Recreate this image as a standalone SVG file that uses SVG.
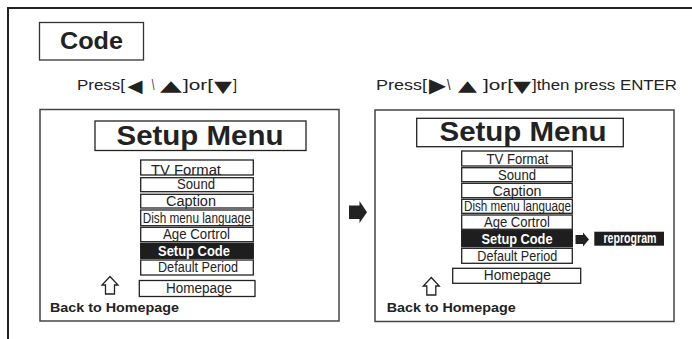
<svg xmlns="http://www.w3.org/2000/svg" width="692" height="339" viewBox="0 0 692 339">
<style>
.frame{fill:none;stroke:#222;stroke-width:2}
.panel{fill:#fff;stroke:#444;stroke-width:1.5}
.box{fill:#fff;stroke:#222;stroke-width:1.3}
.sel{fill:#1e1e1e;stroke:#1e1e1e;stroke-width:1.3}
.t{font-family:"Liberation Sans",Arial,sans-serif;fill:#222}
.item{font-family:"Liberation Sans",Arial,sans-serif;font-size:14px;fill:#222;text-anchor:middle}
.itemw{font-family:"Liberation Sans",Arial,sans-serif;font-size:14px;font-weight:bold;fill:#fff;text-anchor:middle}
.title{font-family:"Liberation Sans",Arial,sans-serif;font-size:27px;font-weight:bold;fill:#222;text-anchor:middle}
.back{font-family:"Liberation Sans",Arial,sans-serif;font-size:13px;font-weight:bold;fill:#222}
.sym{font-family:"DejaVu Sans",sans-serif}
.arr{fill:#222}
.up{fill:#fff;stroke:#222;stroke-width:1.3;stroke-linejoin:miter}
</style>
<g id="frame">
<line class="frame" x1="8" y1="8" x2="692" y2="8"/>
<line class="frame" x1="8" y1="7" x2="8" y2="339"/>
</g>
<g id="code">
<rect x="39.5" y="22.5" width="104" height="37.5" fill="#fff" stroke="#333" stroke-width="1.3"/>
<text class="t" x="91.5" y="48.5" font-size="23" font-weight="bold" text-anchor="middle" textLength="63" lengthAdjust="spacingAndGlyphs">Code</text>
</g>
<g id="instr-left">
<text class="t" y="90" font-size="15"><tspan x="77" textLength="48" lengthAdjust="spacingAndGlyphs">Press[</tspan><tspan class="sym" x="127.5" y="91.5" font-size="18" textLength="15" lengthAdjust="spacingAndGlyphs">◀</tspan><tspan x="149" y="90" textLength="8" lengthAdjust="spacingAndGlyphs"> \ </tspan><tspan class="sym" x="160" y="91" font-size="15" textLength="22" lengthAdjust="spacingAndGlyphs">▲</tspan><tspan x="183" y="90" textLength="30" lengthAdjust="spacingAndGlyphs">]or[</tspan><tspan class="sym" x="214" y="92" font-size="16" textLength="18" lengthAdjust="spacingAndGlyphs">▼</tspan><tspan x="233" y="90" textLength="4" lengthAdjust="spacingAndGlyphs">]</tspan></text>
</g>
<g id="instr-right">
<text class="t" y="90" font-size="15"><tspan x="376" textLength="51" lengthAdjust="spacingAndGlyphs">Press[</tspan><tspan class="sym" x="429" y="92" font-size="20" textLength="17" lengthAdjust="spacingAndGlyphs">▶</tspan><tspan x="447" y="90" textLength="7" lengthAdjust="spacingAndGlyphs">\ </tspan><tspan class="sym" x="458" y="91" font-size="15" textLength="19" lengthAdjust="spacingAndGlyphs">▲</tspan><tspan x="483" y="90" textLength="30" lengthAdjust="spacingAndGlyphs">]or[</tspan><tspan class="sym" x="513" y="92" font-size="16" textLength="18" lengthAdjust="spacingAndGlyphs">▼</tspan><tspan x="532" y="90" textLength="145" lengthAdjust="spacingAndGlyphs">]then press ENTER</tspan></text>
</g>
<g id="panel-left">
<rect class="panel" x="40" y="109.5" width="299" height="211.5"/>
<rect class="box" x="95" y="121" width="211" height="29.5" stroke-width="1.5"/>
<text class="title" x="200" y="145" textLength="167" lengthAdjust="spacingAndGlyphs">Setup Menu</text>
<rect class="box" x="140.7" y="160" width="112.6" height="15"/>
<text class="item" x="186" y="174.5" textLength="70" lengthAdjust="spacingAndGlyphs">TV Format</text>
<rect class="box" x="140.7" y="177.7" width="112.6" height="14"/>
<text class="item" x="196" y="189" textLength="38" lengthAdjust="spacingAndGlyphs">Sound</text>
<rect class="box" x="140.7" y="194.3" width="112.6" height="13.7"/>
<text class="item" x="191" y="206" textLength="50" lengthAdjust="spacingAndGlyphs">Caption</text>
<rect class="box" x="140.7" y="210" width="112.6" height="15.7"/>
<text class="item" x="196.7" y="222.5" textLength="108" lengthAdjust="spacingAndGlyphs">Dish menu language</text>
<rect class="box" x="140.7" y="227.3" width="112.6" height="14.4"/>
<text class="item" x="196.5" y="239" textLength="67" lengthAdjust="spacingAndGlyphs">Age Cortrol</text>
<rect class="sel" x="140.7" y="243.3" width="112.6" height="15"/>
<text class="itemw" x="194" y="255.5" textLength="72" lengthAdjust="spacingAndGlyphs">Setup Code</text>
<rect class="box" x="140.7" y="260" width="112.6" height="15"/>
<text class="item" x="198" y="272" textLength="80" lengthAdjust="spacingAndGlyphs">Default Period</text>
<rect class="box" x="139.3" y="280.5" width="115.7" height="16"/>
<text class="item" x="199" y="293" textLength="66" lengthAdjust="spacingAndGlyphs">Homepage</text>
<path class="up" d="M110 276.5 L118 285 L114.5 285 L114.5 294 L105.5 294 L105.5 285 L102 285 Z"/>
<text class="back" x="50" y="311.5" textLength="129" lengthAdjust="spacingAndGlyphs">Back to Homepage</text>
</g>
<g id="panel-right">
<rect class="panel" x="375" y="110" width="299" height="211.5"/>
<rect class="box" x="416.7" y="118.3" width="206.6" height="28.4" stroke-width="1.5"/>
<text class="title" x="523" y="140.5" textLength="167" lengthAdjust="spacingAndGlyphs">Setup Menu</text>
<rect class="box" x="461.7" y="151" width="110.6" height="15"/>
<text class="item" x="517.5" y="163.5" textLength="62" lengthAdjust="spacingAndGlyphs">TV Format</text>
<rect class="box" x="461.7" y="167.7" width="110.6" height="14"/>
<text class="item" x="517" y="179.5" textLength="38" lengthAdjust="spacingAndGlyphs">Sound</text>
<rect class="box" x="461.7" y="183.3" width="110.6" height="14.4"/>
<text class="item" x="517" y="195.5" textLength="49" lengthAdjust="spacingAndGlyphs">Caption</text>
<rect class="box" x="461.7" y="199.3" width="110.6" height="14"/>
<text class="item" x="517.5" y="211" textLength="107" lengthAdjust="spacingAndGlyphs">Dish menu language</text>
<rect class="box" x="461.7" y="215" width="110.6" height="14.3"/>
<text class="item" x="517" y="227" textLength="66" lengthAdjust="spacingAndGlyphs">Age Cortrol</text>
<rect class="sel" x="461.7" y="230.7" width="110.6" height="16"/>
<text class="itemw" x="517" y="244" textLength="71" lengthAdjust="spacingAndGlyphs">Setup Code</text>
<rect class="box" x="461.7" y="248.3" width="110.6" height="15"/>
<text class="item" x="517.3" y="260.5" textLength="80" lengthAdjust="spacingAndGlyphs">Default Period</text>
<rect class="box" x="452.7" y="268.3" width="128" height="15"/>
<text class="item" x="517.3" y="280" textLength="67" lengthAdjust="spacingAndGlyphs">Homepage</text>
<path class="up" d="M431.3 277.5 L439.3 286 L435.8 286 L435.8 295 L426.8 295 L426.8 286 L423.3 286 Z"/>
<text class="back" x="386.7" y="311.5" textLength="129" lengthAdjust="spacingAndGlyphs">Back to Homepage</text>
</g>
<g id="reprogram">
<rect x="594.3" y="231.7" width="69.7" height="14" fill="#1e1e1e"/>
<text class="itemw" x="630" y="243" font-size="13" textLength="53" lengthAdjust="spacingAndGlyphs">reprogram</text>
</g>
<g id="connectors">
<path class="arr" d="M349 205.5 L359.5 205.5 L359.5 201 L367 212.3 L359.5 223 L359.5 219 L349 219 Z"/>
<path class="arr" d="M575.5 235 L583 235 L583 232.5 L589 239.5 L583 246.5 L583 244 L575.5 244 Z"/>
</g>
</svg>
